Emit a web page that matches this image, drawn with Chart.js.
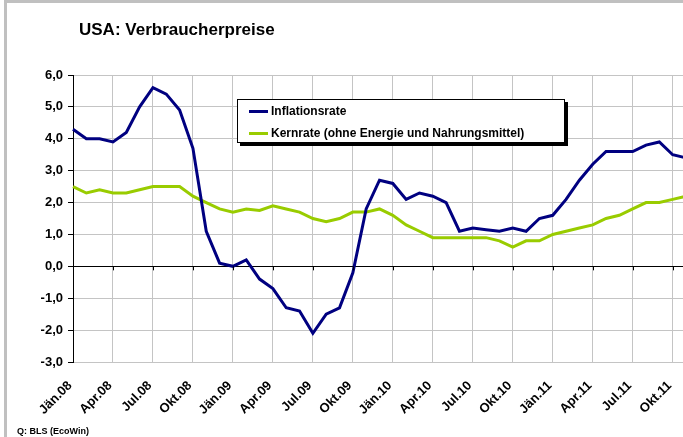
<!DOCTYPE html>
<html>
<head>
<meta charset="utf-8">
<script src="https://cdn.jsdelivr.net/npm/chart.js@4/dist/chart.umd.min.js"></script>
<style>
  html, body { margin: 0; padding: 0; overflow: hidden; width: 683px; height: 437px; background: #fff; }
  #wrap { position: absolute; left: 0; top: 0; width: 683px; height: 437px; overflow: hidden; }
  #frame { position: absolute; left: 4px; top: 0; width: 700px; height: 460px; border-left: 3px solid #c0c0c0; border-top: 3px solid #c0c0c0; box-sizing: border-box; }
  canvas { position: absolute; left: 0; top: 0; }
  .txt { position: absolute; font-family: "Liberation Sans", Arial, sans-serif; font-weight: bold; color: #000; white-space: nowrap; }
  #title { left: 79px; top: 21px; font-size: 17px; line-height: 17px; }
  #source { left: 17px; top: 427px; font-size: 9px; line-height: 9px; }
  #legend { position: absolute; left: 237px; top: 99px; width: 328px; height: 44px; border: 1px solid #000; box-sizing: border-box; background: #fff; box-shadow: 3px 3px 0 #000; }
  .item { position: absolute; left: 11px; height: 14px; font-family: "Liberation Sans", Arial, sans-serif; font-weight: bold; font-size: 12px; line-height: 14px; white-space: nowrap; }
  .swatch { position: absolute; left: 0; top: 6px; width: 19px; height: 3px; }
  .label { position: absolute; left: 22px; top: 0; }
</style>
</head>
<body>
<div id="wrap">
  <div id="frame"></div>
  <canvas id="c" width="700" height="437"></canvas>
  <div id="title" class="txt">USA: Verbraucherpreise</div>
  <div id="legend"></div>
  <div id="source" class="txt">Q: BLS (EcoWin)</div>
</div>
<script>
// Categories: monthly, Jän.08 .. Nov.11
const months = [
  'Jän.08','Feb.08','Mär.08','Apr.08','Mai.08','Jun.08','Jul.08','Aug.08','Sep.08','Okt.08','Nov.08','Dez.08',
  'Jän.09','Feb.09','Mär.09','Apr.09','Mai.09','Jun.09','Jul.09','Aug.09','Sep.09','Okt.09','Nov.09','Dez.09',
  'Jän.10','Feb.10','Mär.10','Apr.10','Mai.10','Jun.10','Jul.10','Aug.10','Sep.10','Okt.10','Nov.10','Dez.10',
  'Jän.11','Feb.11','Mär.11','Apr.11','Mai.11','Jun.11','Jul.11','Aug.11','Sep.11','Okt.11','Nov.11'
];

// Tick labels shown on the x axis (every third month)
const xTickLabels = ['Jän.08','Apr.08','Jul.08','Okt.08','Jän.09','Apr.09','Jul.09','Okt.09',
  'Jän.10','Apr.10','Jul.10','Okt.10','Jän.11','Apr.11','Jul.11','Okt.11'];

// Y tick labels
const yTickLabels = ['-3,0','-2,0','-1,0','0,0','1,0','2,0','3,0','4,0','5,0','6,0'];
const yTickValues = [-3, -2, -1, 0, 1, 2, 3, 4, 5, 6];

// Series
const inflationsrate = [
  4.3, 4.0, 4.0, 3.9, 4.2, 5.0, 5.6, 5.4, 4.9, 3.7, 1.1, 0.1,
  0.0, 0.2, -0.4, -0.7, -1.3, -1.4, -2.1, -1.5, -1.3, -0.2, 1.8, 2.7,
  2.6, 2.1, 2.3, 2.2, 2.0, 1.1, 1.2, 1.15, 1.1, 1.2, 1.1, 1.5,
  1.6, 2.1, 2.7, 3.2, 3.6, 3.6, 3.6, 3.8, 3.9, 3.5, 3.4
];
const kernrate = [
  2.5, 2.3, 2.4, 2.3, 2.3, 2.4, 2.5, 2.5, 2.5, 2.2, 2.0, 1.8,
  1.7, 1.8, 1.75, 1.9, 1.8, 1.7, 1.5, 1.4, 1.5, 1.7, 1.7, 1.8,
  1.6, 1.3, 1.1, 0.9, 0.9, 0.9, 0.9, 0.9, 0.8, 0.6, 0.8, 0.8,
  1.0, 1.1, 1.2, 1.3, 1.5, 1.6, 1.8, 2.0, 2.0, 2.1, 2.2
];

const seriesNames = ['Inflationsrate', 'Kernrate (ohne Energie und Nahrungsmittel)'];
const seriesColors = ['#000080', '#99cc00'];

const FONT = '"Liberation Sans", Arial, sans-serif';
const GRID = '#c4c4c4';

// Short tick marks on the zero line at each labelled month
const zeroTicks = {
  id: 'zeroTicks',
  afterDraw(chart) {
    const x = chart.scales.x, y = chart.scales.y;
    const y0 = y.getPixelForValue(0);
    const ctx = chart.ctx;
    ctx.save();
    ctx.strokeStyle = '#000';
    ctx.lineWidth = 1;
    ctx.beginPath();
    months.forEach((m, i) => {
      if (xTickLabels.includes(m)) {
        const px = Math.round(x.getPixelForValue(i)) + 0.5;
        ctx.moveTo(px, y0);
        ctx.lineTo(px, y0 + 4);
      }
    });
    ctx.stroke();
    ctx.restore();
  }
};

const chart = new Chart(document.getElementById('c'), {
  type: 'line',
  data: {
    labels: months,
    datasets: [
      { label: seriesNames[0], data: inflationsrate, borderColor: seriesColors[0], backgroundColor: seriesColors[0],
        borderWidth: 3, pointRadius: 0, tension: 0, fill: false },
      { label: seriesNames[1], data: kernrate, borderColor: seriesColors[1], backgroundColor: seriesColors[1],
        borderWidth: 3, pointRadius: 0, tension: 0, fill: false }
    ]
  },
  options: {
    responsive: false,
    animation: false,
    events: [],
    layout: { padding: { top: 75, right: 700 - (73 + 46 * 40 / 3), bottom: 0, left: 0 } },
    plugins: { legend: { display: false }, title: { display: false }, tooltip: { enabled: false } },
    scales: {
      x: {
        type: 'category',
        grid: { color: GRID, lineWidth: 1, drawTicks: false },
        border: { display: false },
        ticks: {
          autoSkip: false, minRotation: 45, maxRotation: 45,
          padding: 16, labelOffset: -3,
          color: '#000', font: { family: FONT, size: 13, weight: 'bold' },
          callback: (v, i) => xTickLabels.includes(months[i]) ? months[i] : null
        },
        afterFit: (s) => { s.height = 75; }
      },
      y: {
        min: -3, max: 6,
        afterBuildTicks: (s) => { s.ticks = yTickValues.map(v => ({ value: v })); },
        grid: {
          color: (ctx) => (ctx.tick && ctx.tick.value === 0) ? '#000' : GRID,
          lineWidth: 1, tickLength: 5, tickColor: '#000'
        },
        border: { display: true, color: '#000', width: 1 },
        ticks: {
          padding: 5, color: '#000', font: { family: FONT, size: 13, weight: 'bold' },
          callback: (v) => yTickLabels[yTickValues.indexOf(v)]
        },
        afterFit: (s) => { s.width = 73; }
      }
    }
  },
  plugins: [zeroTicks]
});

// HTML legend generated from the chart's datasets
const legendEl = document.getElementById('legend');
chart.data.datasets.forEach((ds, i) => {
  const item = document.createElement('div');
  item.className = 'item';
  item.style.top = (4 + i * 22) + 'px';
  const sw = document.createElement('div');
  sw.className = 'swatch';
  sw.style.background = ds.borderColor;
  const lb = document.createElement('div');
  lb.className = 'label';
  lb.textContent = ds.label;
  item.appendChild(sw); item.appendChild(lb);
  legendEl.appendChild(item);
});
</script>
</body>
</html>
